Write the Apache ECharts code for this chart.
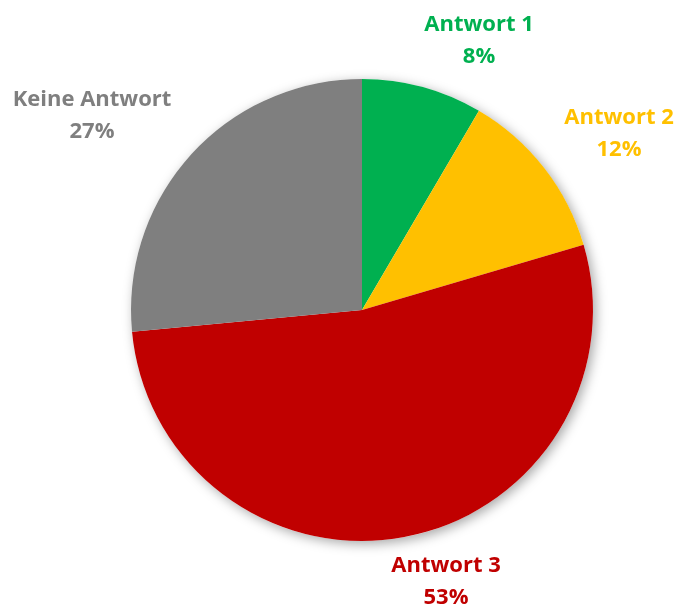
<!DOCTYPE html>
<html>
<head>
<meta charset="utf-8">
<script src="https://cdn.jsdelivr.net/npm/echarts@6/dist/echarts.min.js"></script>
<style>html,body{margin:0;padding:0;background:#fff;}#c{width:677px;height:610px;}</style>
</head>
<body>
<div id="c"></div>
<script>
const categories = ['Antwort 1', 'Antwort 2', 'Antwort 3', 'Keine Antwort'];
const values = [8.45, 12.0, 53.05, 26.5];
const colors = ['#00B050', '#FFC000', '#C00000', '#7F7F7F'];
// label block centres (layout only)
const labelPos = [[479, 41], [619, 134], [446, 582], [92, 116]];

const chart = echarts.init(document.getElementById('c'));
chart.setOption({
  animation: false,
  series: [
    {
      type: 'pie',
      silent: true,
      center: [362, 310],
      radius: 231,
      label: { show: false },
      labelLine: { show: false },
      itemStyle: { color: '#ffffff', shadowBlur: 12, shadowColor: 'rgba(0,0,0,0.35)', shadowOffsetX: 3, shadowOffsetY: 3 },
      data: [{ value: 1 }],
      z: 1
    },
    {
      type: 'pie',
      center: [362, 310],
      radius: 231,
      startAngle: 90,
      clockwise: true,
      z: 2,
      data: categories.map((c, i) => ({
        name: c, value: values[i],
        itemStyle: { color: colors[i] },
        label: { color: colors[i] }
      })),
      itemStyle: { borderWidth: 0 },
      label: {
        show: true,
        position: 'outside',
        overflow: 'none',
        formatter: p => p.name + '\n' + Math.round(p.percent) + '%',
        fontFamily: 'Open Sans',
        fontWeight: 'bold',
        fontSize: 22,
        lineHeight: 32,
        align: 'center'
      },
      labelLine: { show: false },
      labelLayout: p => ({
        x: labelPos[p.dataIndex][0],
        y: labelPos[p.dataIndex][1],
        align: 'center',
        verticalAlign: 'middle'
      })
    }
  ]
});
</script>
</body>
</html>
